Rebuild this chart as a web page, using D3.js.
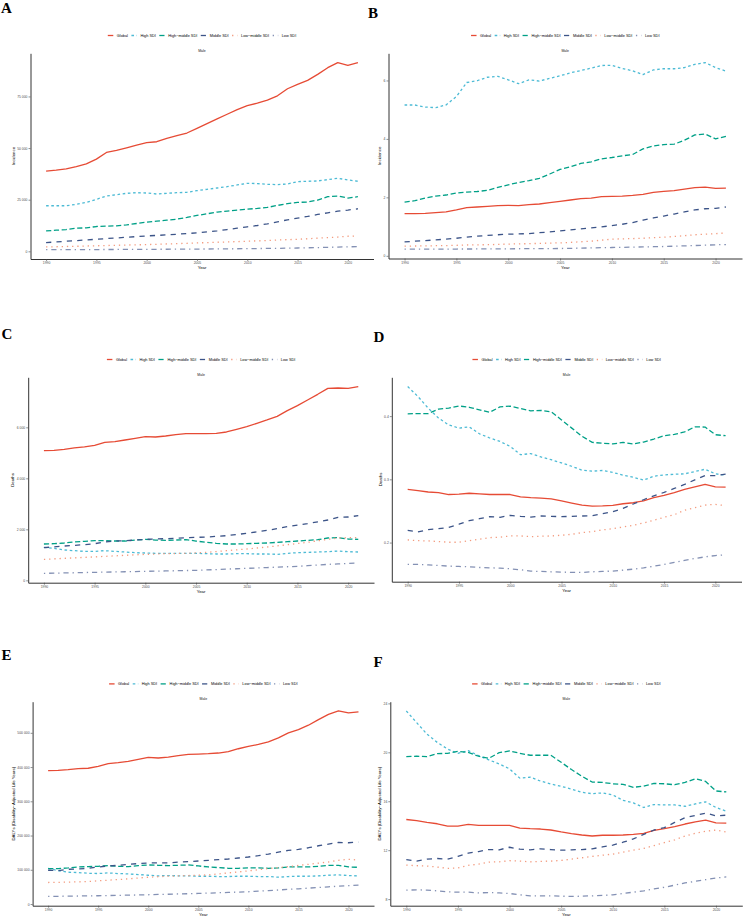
<!DOCTYPE html>
<html><head><meta charset="utf-8">
<script src="https://cdn.jsdelivr.net/npm/d3@7"></script>
<style>body{margin:0;background:#fff}svg{display:block}</style>
</head><body>
<svg id="chart" width="743" height="918"></svg>
<script>
// ---------- DATA ----------
const years = [1990,1991,1992,1993,1994,1995,1996,1997,1998,1999,2000,2001,2002,2003,2004,2005,2006,2007,2008,2009,2010,2011,2012,2013,2014,2015,2016,2017,2018,2019,2020,2021];
const seriesNames = ["Global","High SDI","High\u2212middle SDI","Middle SDI","Low\u2212middle SDI","Low SDI"];
const xTicks = [1990,1995,2000,2005,2010,2015,2020];

// A: Incidence (number)
const A_global  = [38790,39280,39930,41060,42360,44630,47880,48850,50150,51450,52590,53070,54700,55990,57290,59560,61840,64110,66380,68650,70600,71730,73200,75310,78720,80830,82770,85690,88940,91370,90070,91370];
const A_high    = [22070,22070,22070,22720,23700,25160,26780,27430,28080,28400,28240,27750,28080,28400,28570,29380,30030,30670,31320,32140,32950,32790,32460,32300,32620,33760,33920,34080,34730,35380,34570,33920];
const A_highmid = [9900,10220,10540,11200,11360,12010,12170,12330,12820,13470,14120,14610,15090,15580,16390,17370,18180,18990,19480,19960,20450,20770,21260,22240,23050,23700,23860,24830,26450,26780,25810,26450];
const A_middle  = [4220,4540,4870,5190,5520,5840,6160,6490,6810,7140,7470,7710,7950,8270,8600,8930,9410,9900,10550,11200,11850,12500,13310,14280,15260,16070,16880,17850,18660,19480,19960,20610];
const A_lowmid  = [2110,2220,2330,2440,2560,2680,2800,2920,3040,3150,3250,3400,3560,3720,3890,4060,4220,4380,4550,4710,4870,5060,5250,5450,5640,5840,6100,6370,6640,6910,7300,7470];
const A_low     = [810,820,830,840,850,860,880,900,920,940,970,990,1010,1040,1070,1100,1130,1170,1210,1250,1300,1340,1390,1440,1520,1620,1710,1810,1920,2050,2170,2270];

// B: Incidence (rate)
const B_global  = [1.443,1.443,1.455,1.477,1.50,1.568,1.648,1.67,1.693,1.716,1.727,1.716,1.75,1.773,1.818,1.864,1.909,1.955,1.977,2.023,2.034,2.045,2.068,2.102,2.17,2.205,2.227,2.284,2.33,2.352,2.307,2.318];
const B_high    = [5.16,5.16,5.09,5.07,5.16,5.45,5.93,5.99,6.11,6.14,6.02,5.89,6.02,5.98,6.07,6.16,6.26,6.34,6.42,6.51,6.52,6.41,6.33,6.20,6.36,6.40,6.40,6.44,6.55,6.61,6.44,6.32];
const B_highmid = [1.84,1.886,1.977,2.045,2.08,2.148,2.18,2.20,2.24,2.34,2.43,2.51,2.57,2.65,2.80,2.955,3.045,3.16,3.216,3.318,3.364,3.42,3.466,3.66,3.76,3.807,3.818,3.955,4.136,4.17,4.0,4.09];
const B_middle  = [0.477,0.50,0.52,0.545,0.57,0.60,0.64,0.67,0.70,0.72,0.74,0.75,0.76,0.79,0.82,0.85,0.89,0.92,0.955,0.99,1.034,1.08,1.136,1.22,1.295,1.36,1.43,1.50,1.57,1.61,1.625,1.67];
const B_lowmid  = [0.33,0.335,0.34,0.345,0.35,0.36,0.37,0.375,0.38,0.39,0.40,0.41,0.415,0.425,0.435,0.443,0.46,0.48,0.50,0.535,0.57,0.58,0.59,0.60,0.62,0.636,0.66,0.69,0.72,0.74,0.76,0.78];
const B_low     = [0.227,0.228,0.229,0.23,0.231,0.232,0.233,0.234,0.236,0.238,0.24,0.242,0.244,0.246,0.248,0.25,0.255,0.262,0.27,0.277,0.284,0.29,0.297,0.304,0.311,0.318,0.328,0.34,0.352,0.364,0.376,0.386];

// C: Deaths (number)
const C_global  = [5085,5098,5137,5190,5230,5294,5412,5438,5503,5569,5634,5621,5660,5712,5752,5752,5752,5760,5817,5921,6026,6157,6288,6431,6653,6849,7071,7294,7529,7542,7529,7595];
const C_high    = [1294,1255,1190,1163,1137,1137,1163,1137,1111,1085,1072,1059,1059,1059,1059,1059,1046,1033,1033,1046,1046,1033,1033,1020,1059,1085,1098,1111,1124,1150,1124,1111];
const C_highmid = [1425,1438,1464,1503,1530,1555,1555,1542,1542,1581,1608,1581,1568,1581,1594,1542,1490,1451,1425,1425,1438,1451,1464,1490,1516,1542,1568,1594,1660,1673,1621,1608];
const C_middle  = [1281,1313,1346,1372,1398,1438,1503,1542,1555,1581,1608,1621,1634,1654,1673,1686,1699,1725,1751,1797,1843,1900,1960,2026,2104,2163,2222,2294,2366,2470,2483,2536];
const C_lowmid  = [823,843,863,883,902,921,941,960,980,1000,1019,1033,1046,1052,1059,1078,1098,1130,1163,1196,1229,1268,1307,1352,1398,1444,1490,1549,1608,1660,1673,1673];
const C_low     = [274,282,290,298,306,314,322,330,338,345,353,361,369,377,385,392,408,423,439,455,470,486,502,518,533,549,575,601,627,645,663,680];

// D: Deaths (rate)
const D_global  = [0.284,0.282,0.280,0.279,0.276,0.2766,0.278,0.277,0.276,0.276,0.276,0.2724,0.271,0.2703,0.269,0.266,0.2625,0.2593,0.2577,0.258,0.2588,0.2614,0.263,0.266,0.271,0.2745,0.279,0.284,0.288,0.292,0.288,0.2877];
const D_high    = [0.4467,0.431,0.4126,0.397,0.386,0.381,0.383,0.372,0.3654,0.360,0.352,0.339,0.3407,0.3354,0.331,0.326,0.3207,0.3144,0.313,0.314,0.311,0.3066,0.3034,0.2987,0.305,0.307,0.308,0.3087,0.3123,0.316,0.3087,0.3066];
const D_highmid = [0.4037,0.404,0.404,0.411,0.4126,0.416,0.414,0.410,0.406,0.4147,0.4157,0.412,0.4084,0.409,0.4068,0.394,0.381,0.368,0.3585,0.357,0.356,0.3585,0.356,0.359,0.3638,0.369,0.371,0.375,0.383,0.3827,0.3706,0.369];
const D_middle  = [0.2194,0.2168,0.2205,0.222,0.224,0.229,0.2346,0.2378,0.241,0.240,0.243,0.2415,0.2404,0.242,0.2415,0.241,0.2415,0.242,0.2425,0.2457,0.2488,0.254,0.261,0.2677,0.274,0.2793,0.2856,0.2919,0.2992,0.306,0.306,0.3081];
const D_lowmid  = [0.2042,0.203,0.2026,0.2016,0.2005,0.2005,0.203,0.2052,0.2079,0.2084,0.2105,0.2105,0.2094,0.21,0.2105,0.2115,0.2131,0.2157,0.2173,0.22,0.222,0.2247,0.2273,0.231,0.2352,0.24,0.2441,0.251,0.2551,0.2593,0.2604,0.2583];
const D_low     = [0.1654,0.1654,0.1648,0.1638,0.1627,0.1622,0.1617,0.1606,0.160,0.1596,0.1585,0.157,0.1549,0.1543,0.1538,0.1533,0.1528,0.1528,0.1538,0.1543,0.1549,0.1564,0.158,0.160,0.1627,0.1654,0.1685,0.1717,0.1748,0.1774,0.1795,0.1806];

// E: DALYs (number)
const E_global  = [389700,390600,392600,395500,396500,402300,410000,413000,416800,422600,428400,426400,429300,433200,437100,438000,439000,441000,444800,453500,460300,466100,473800,485400,500000,509600,522200,538600,554000,563800,558000,560900];
const E_high    = [104400,97700,92800,91900,89900,89000,90900,89000,88000,86100,84100,82200,83200,82200,82200,81200,81200,80300,80300,81200,81200,80300,80300,78300,80300,81200,81200,82200,84100,85100,83200,82200];
const E_highmid = [103500,103500,105400,108300,109300,110200,112200,110200,109300,112200,114100,113100,112200,113100,114100,111200,108300,106400,104400,104400,105400,105400,104400,105400,108300,108300,108300,110200,113100,113100,108300,107300];
const E_middle  = [98600,97700,101500,102500,104400,108300,111200,113100,116000,118000,119900,119900,119900,122800,123800,125700,127600,129600,131500,134400,137300,141200,146000,151800,156700,159600,164400,170200,175000,179900,178900,180800];
const E_lowmid  = [62900,63400,63900,64800,65800,67700,69600,71500,73500,75900,78300,79800,81200,82200,83200,84100,85100,88000,90900,93800,96700,100100,103500,106400,109300,112700,116000,119400,122800,127600,130500,128600];
const E_low     = [22200,22600,23000,23400,23800,24200,24800,25400,25900,26500,27100,27900,28600,29400,30100,30900,31900,32900,33800,34800,35800,37500,39300,41000,42800,44500,46400,48400,50300,51900,53500,55100];

// F: DALYs (rate)
const F_global  = [14.51,14.41,14.27,14.16,13.97,13.97,14.11,14.03,14.03,14.03,14.03,13.81,13.76,13.73,13.65,13.49,13.35,13.24,13.16,13.22,13.22,13.24,13.30,13.38,13.62,13.76,13.92,14.14,14.32,14.46,14.24,14.22];
const F_high    = [23.38,22.43,21.49,20.81,20.27,19.92,20.14,19.73,19.38,19.05,18.65,17.89,17.97,17.65,17.41,17.22,17.0,16.73,16.62,16.68,16.51,16.08,15.86,15.49,15.73,15.70,15.70,15.59,15.78,15.95,15.49,15.19];
const F_highmid = [19.65,19.68,19.65,19.89,19.92,20.08,20.0,19.68,19.51,19.97,20.11,19.92,19.76,19.76,19.76,19.19,18.59,18.05,17.57,17.54,17.43,17.38,17.14,17.24,17.46,17.43,17.35,17.54,17.84,17.62,16.84,16.76];
const F_middle  = [11.22,11.11,11.27,11.32,11.27,11.49,11.76,11.89,12.05,12.03,12.24,12.08,12.03,12.11,12.05,12.0,12.03,12.05,12.11,12.27,12.41,12.65,12.92,13.30,13.65,13.84,14.27,14.65,14.84,15.03,14.81,14.86];
const F_lowmid  = [10.78,10.73,10.70,10.62,10.51,10.54,10.76,10.86,11.03,11.05,11.14,11.11,11.05,11.08,11.11,11.16,11.27,11.38,11.49,11.59,11.68,11.84,12.0,12.14,12.38,12.62,12.84,13.16,13.38,13.54,13.65,13.49];
const F_low     = [8.73,8.76,8.73,8.68,8.59,8.57,8.57,8.51,8.54,8.51,8.46,8.35,8.27,8.27,8.27,8.24,8.22,8.24,8.27,8.30,8.35,8.46,8.57,8.68,8.84,8.97,9.14,9.32,9.46,9.59,9.73,9.81];

const ticksA = [0,25000,50000,75000];
const ticksB = [0,2,4,6];
const ticksC = [0,2000,4000,6000];
const ticksD = [0.2,0.3,0.4];
const ticksE = [0,100000,200000,300000,400000,500000];
const ticksF = [8,12,16,20,24];

// ---------- STYLE ----------
const colors = ["#E64B35","#4DBBD5","#00A087","#3C5488","#F39B7F","#8491B4"];
const dashUnits = [null,[2,2],[4,2],[4,4],[1,3],[1,3,4,3]];
const LW = 1.3;
const dashOf = i => dashUnits[i] ? dashUnits[i].map(d => d*LW).join(",") : null;
const spaced = d => d3.format(",")(d).replace(/,/g, " ");
const FONT = "'Liberation Sans', Arial, Helvetica, sans-serif";

const dalyTitle = "DALYs (Disability\u2212Adjusted Life Years)";
const panels = [
  {letter:"A", lx:1, ly:12.7, box:{l:30.5,r:373.5,t:53.3,b:259}, series:[A_global,A_high,A_highmid,A_middle,A_lowmid,A_low], ticks:ticksA, fmt:spaced, title:"Incidence"},
  {letter:"B", lx:368, ly:18.3, box:{l:388.5,r:742,t:53.3,b:258.5}, series:[B_global,B_high,B_highmid,B_middle,B_lowmid,B_low], ticks:ticksB, fmt:d3.format("d"), title:"Incidence"},
  {letter:"C", lx:1.5, ly:339.3, box:{l:28.2,r:374,t:377.3,b:582.7}, series:[C_global,C_high,C_highmid,C_middle,C_lowmid,C_low], ticks:ticksC, fmt:spaced, title:"Deaths"},
  {letter:"D", lx:373.5, ly:341.7, box:{l:391.8,r:741.5,t:377.3,b:581.7}, series:[D_global,D_high,D_highmid,D_middle,D_lowmid,D_low], ticks:ticksD, fmt:d3.format(".1f"), title:"Deaths"},
  {letter:"E", lx:1.5, ly:660, box:{l:32.6,r:374,t:701.7,b:905.7}, series:[E_global,E_high,E_highmid,E_middle,E_lowmid,E_low], ticks:ticksE, fmt:spaced, title:dalyTitle},
  {letter:"F", lx:373.5, ly:666.7, box:{l:390.3,r:742.3,t:701.7,b:905.7}, series:[F_global,F_high,F_highmid,F_middle,F_lowmid,F_low], ticks:ticksF, fmt:d3.format("d"), title:dalyTitle}
];

const svg = d3.select("#chart");
svg.append("rect").attr("width",743).attr("height",918).attr("fill","#fff");

panels.forEach(p => {
  const g = svg.append("g");
  const {l,r,t,b} = p.box;
  const x0 = d3.min(years), x1 = d3.max(years);
  const xr = (x1 - x0) * 0.05;
  const x = d3.scaleLinear().domain([x0 - xr, x1 + xr]).range([l, r]);
  const all = p.series.flat();
  const lo = d3.min(all), hi = d3.max(all), yr = (hi - lo) * 0.05;
  const y = d3.scaleLinear().domain([lo - yr, hi + yr]).range([b, t]);

  // panel letter
  g.append("text").attr("x", p.lx).attr("y", p.ly)
    .attr("font-family","'Liberation Serif','Times New Roman',serif")
    .attr("font-weight","bold").attr("font-size",15).attr("fill","#000").text(p.letter);

  // lines
  const line = d3.line().x((d,i) => x(years[i])).y(d => y(d));
  p.series.forEach((s, i) => {
    g.append("path").datum(s).attr("d", line)
      .attr("fill","none").attr("stroke", colors[i]).attr("stroke-width", LW)
      .attr("stroke-dasharray", dashOf(i)).attr("stroke-linejoin","round");
  });

  // axes
  const ya = g.append("g").attr("transform",`translate(${l},0)`)
    .call(d3.axisLeft(y).tickValues(p.ticks).tickFormat(p.fmt).tickSize(2).tickSizeOuter(0).tickPadding(1));
  const xa = g.append("g").attr("transform",`translate(0,${b})`)
    .call(d3.axisBottom(x).tickValues(xTicks).tickFormat(d3.format("d")).tickSize(2).tickSizeOuter(0).tickPadding(1));
  [ya, xa].forEach(a => {
    a.select(".domain").attr("stroke","#333").attr("stroke-width",1);
    a.selectAll(".tick line").attr("stroke","#444").attr("stroke-width",0.6);
    a.selectAll(".tick text").attr("font-family",FONT).attr("font-size",3.4).attr("fill","#4D4D4D");
  });

  // y title placed to the left of the widest tick label
  let maxW = 0;
  ya.selectAll(".tick text").each(function(){ maxW = Math.max(maxW, this.getComputedTextLength()); });
  const titleX = l - 3 - maxW - 4;
  g.append("text").attr("transform",`translate(${titleX},${(t+b)/2}) rotate(-90)`)
    .attr("text-anchor","middle").attr("dominant-baseline","central")
    .attr("font-family",FONT).attr("font-size",4.3).attr("fill","#000").text(p.title);

  // x title
  g.append("text").attr("x",(l+r)/2).attr("y", b + 8.6).attr("text-anchor","middle")
    .attr("dominant-baseline","central")
    .attr("font-family",FONT).attr("font-size",4.3).attr("fill","#000").text("Year");

  // strip label
  g.append("text").attr("x",(l+r)/2).attr("y", t - 2.8).attr("text-anchor","middle")
    .attr("dominant-baseline","central")
    .attr("font-family",FONT).attr("font-size",3.5).attr("fill","#1A1A1A").text("Male");

  // legend
  const lg = g.append("g");
  const keyW = 5.5, gapKT = 3.5, gapItem = 3.5;
  let cx = 0;
  seriesNames.forEach((name, i) => {
    lg.append("line").attr("x1",cx).attr("x2",cx+keyW).attr("y1",0).attr("y2",0)
      .attr("stroke",colors[i]).attr("stroke-width",LW).attr("stroke-dasharray", dashOf(i));
    const tx = lg.append("text").attr("x", cx + keyW + gapKT).attr("y",0)
      .attr("dominant-baseline","central")
      .attr("font-family",FONT).attr("font-size",3.85).attr("fill","#000").text(name);
    cx += keyW + gapKT + tx.node().getComputedTextLength() + gapItem;
  });
  const totalW = cx - gapItem;
  lg.attr("transform",`translate(${(l+r)/2 - totalW/2},${t - 17.8})`);
});
</script>
</body></html>
